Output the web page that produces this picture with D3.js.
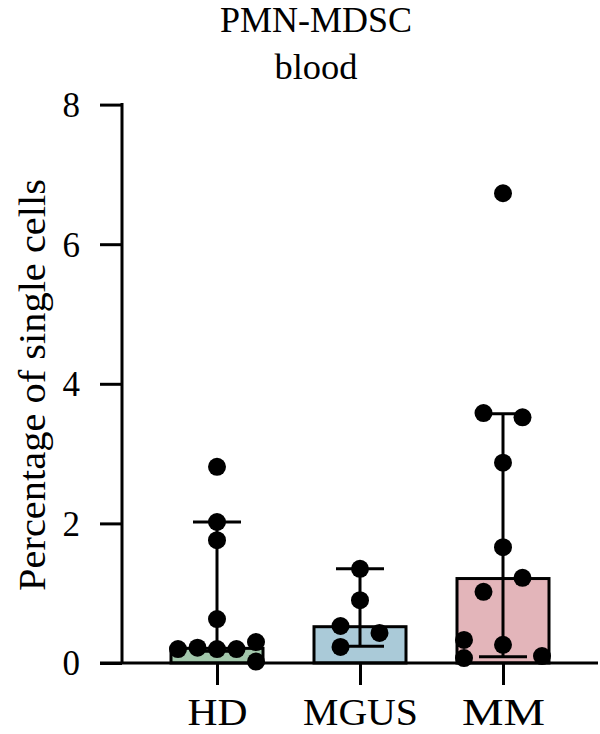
<!DOCTYPE html>
<html>
<head>
<meta charset="utf-8">
<script src="https://cdn.jsdelivr.net/npm/d3@7"></script>
<style>
  html, body { margin: 0; padding: 0; background: #fff; }
  svg { display: block; }
  text { font-family: "Liberation Serif", "DejaVu Serif", serif; fill: #000; }
</style>
</head>
<body>
<svg id="chart" width="600" height="734"></svg>
<script>
// ---- data ----
const categories = ["HD", "MGUS", "MM"];
const medians = [0.21, 0.52, 1.21];
const errLow = [0.17, 0.24, 0.09];
const errHigh = [2.02, 1.35, 3.57];
const hdValues = [2.81, 2.02, 1.76, 0.63, 0.20, 0.22, 0.20, 0.20, 0.30, 0.02];
const hdCols   = [0, 0, 0, 0, -2, -1, 0, 1, 2, 2];
const mgusValues = [1.35, 0.90, 0.53, 0.43, 0.23];
const mgusCols   = [0, 0, -1, 1, -1];
const mmValues = [6.73, 3.58, 3.52, 2.87, 1.66, 1.22, 1.02, 0.33, 0.26, 0.07, 0.10];
const mmCols   = [0, -1, 1, 0, 0, 1, -1, -2, 0, -2, 2];
const yTicks = [0, 2, 4, 6, 8];
const colors = ["#a2c7ab", "#aacad8", "#e3b5ba"];
const titleLines = ["PMN-MDSC", "blood"];
const yLabel = "Percentage of single cells";

const groups = [
  { values: hdValues, cols: hdCols },
  { values: mgusValues, cols: mgusCols },
  { values: mmValues, cols: mmCols }
];

// ---- layout ----
const svg = d3.select("#chart");
const axisX = 122, baseY = 663, topY = 104.6;
const y = d3.scaleLinear().domain([0, 8]).range([baseY, topY]);
const x = d3.scaleBand().domain(categories).range([145.5, 574.5]).padding(0);
const cx = c => x(c) + x.bandwidth() / 2;
const barW = 92, capW = 48, dotR = 9, colStep = 19.5, lw = 3;
// rendered label widths (to mimic the wider original typeface)
const xLabelWidths = { HD: 60, MGUS: 115, MM: 83 };

// bars
const g = svg.append("g");
g.selectAll("rect.bar").data(categories).join("rect")
  .attr("class", "bar")
  .attr("x", c => cx(c) - barW / 2)
  .attr("y", (c, i) => y(medians[i]))
  .attr("width", barW)
  .attr("height", (c, i) => y(0) - y(medians[i]))
  .attr("fill", (c, i) => colors[i])
  .attr("stroke", "#000")
  .attr("stroke-width", lw);

// error bars
categories.forEach((c, i) => {
  const xc = cx(c);
  g.append("line").attr("x1", xc).attr("x2", xc)
    .attr("y1", y(errLow[i])).attr("y2", y(errHigh[i]))
    .attr("stroke", "#000").attr("stroke-width", lw);
  [errLow[i], errHigh[i]].forEach(v => {
    g.append("line").attr("x1", xc - capW / 2).attr("x2", xc + capW / 2)
      .attr("y1", y(v)).attr("y2", y(v))
      .attr("stroke", "#000").attr("stroke-width", lw);
  });
});

// axes
const yAxis = d3.axisLeft(y).tickValues(yTicks).tickSize(22).tickPadding(20).tickFormat(d3.format("d"));
const ya = svg.append("g").attr("transform", `translate(${axisX},0)`).call(yAxis);
ya.select(".domain").remove();
ya.append("line").attr("x1", 0).attr("x2", 0).attr("y1", topY - 1.5).attr("y2", baseY)
  .attr("stroke", "#000").attr("stroke-width", lw);
ya.selectAll(".tick line").attr("stroke", "#000").attr("stroke-width", lw);
ya.selectAll(".tick text").attr("font-size", 35).attr("font-family", "Liberation Serif").attr("dy", "0.34em");

const xAxis = d3.axisBottom(d3.scalePoint().domain(categories).range([cx("HD"), cx("MM")]))
  .tickSize(22).tickPadding(13);
const xa = svg.append("g").attr("transform", `translate(0,${baseY})`).call(xAxis);
xa.select(".domain").remove();
xa.append("line").attr("x1", 100).attr("x2", 598).attr("y1", 0).attr("y2", 0)
  .attr("stroke", "#000").attr("stroke-width", lw);
xa.selectAll(".tick line").attr("stroke", "#000").attr("stroke-width", lw);
xa.selectAll(".tick text").attr("font-size", 38).attr("font-family", "Liberation Serif")
  .attr("textLength", d => xLabelWidths[d]).attr("lengthAdjust", "spacingAndGlyphs");

// dots
groups.forEach((grp, i) => {
  const xc = cx(categories[i]);
  svg.append("g").selectAll("circle").data(grp.values).join("circle")
    .attr("cx", (v, j) => xc + grp.cols[j] * colStep)
    .attr("cy", v => y(v))
    .attr("r", dotR)
    .attr("fill", "#000");
});

// title
svg.append("g").selectAll("text").data(titleLines).join("text")
  .attr("x", 316).attr("y", (d, i) => 32 + i * 47)
  .attr("text-anchor", "middle").attr("font-size", 35)
  .attr("textLength", (d, i) => i === 0 ? 192 : 83).attr("lengthAdjust", "spacingAndGlyphs")
  .text(d => d);

// y label
svg.append("text")
  .attr("transform", `translate(45,385) rotate(-90)`)
  .attr("text-anchor", "middle").attr("font-size", 38)
  .attr("textLength", 412).attr("lengthAdjust", "spacingAndGlyphs")
  .text(yLabel);
</script>
</body>
</html>
